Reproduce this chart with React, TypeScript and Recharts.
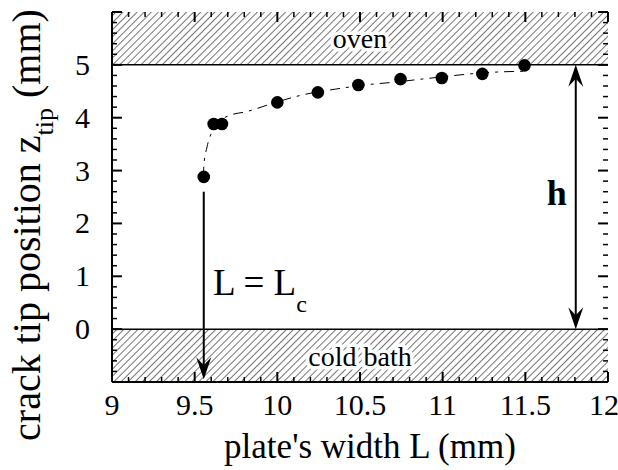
import React from "react";
import {
  ComposedChart,
  Line,
  Scatter,
  XAxis,
  YAxis,
  ReferenceArea,
  ReferenceLine,
  ReferenceDot,
  Label,
} from "recharts";

// measured points: plate width L (mm) vs crack tip position z_tip (mm)
const plateWidth = [9.555, 9.615, 9.665, 10.0, 10.245, 10.49, 10.745, 10.995, 11.24, 11.495];
const tipPosition = [2.88, 3.88, 3.88, 4.29, 4.48, 4.62, 4.73, 4.75, 4.83, 4.99];

// dashed fit curve
const fitWidth = [9.552, 9.556, 9.575, 9.6, 9.63, 9.7, 9.82, 10.0, 10.15, 10.35, 10.56, 10.7, 10.9, 11.3, 11.5];
const fitPosition = [2.88, 3.1, 3.45, 3.7, 3.87, 4.03, 4.12, 4.3, 4.43, 4.54, 4.63, 4.67, 4.74, 4.86, 4.88];

const xMajorTicks = [9, 9.5, 10, 10.5, 11, 11.5, 12];
const yMajorTicks = [-1, 0, 1, 2, 3, 4, 5, 6];
const yTickLabels = [0, 1, 2, 3, 4, 5];

const xTicks = Array.from({ length: 31 }, (_, i) => Math.round(90 + i) / 10);
const yTicks = Array.from({ length: 36 }, (_, i) => Math.round(-5 + i) / 5);

const points = plateWidth.map((L, i) => ({ L, z: tipPosition[i] }));
const fit = fitWidth.map((L, i) => ({ L, z: fitPosition[i] }));

const SERIF = "'Liberation Serif', 'Times New Roman', serif";
const W = 618;
const H = 470;

const isMajorX = (v: number) => xMajorTicks.some((t) => Math.abs(t - v) < 1e-6);
const isMajorY = (v: number) => yMajorTicks.some((t) => Math.abs(t - v) < 1e-6);

// inward tick marks on the frame, in data units (≈10px major, 5px minor)
const xTickLen = (v: number) => (isMajorX(v) ? 0.19 : 0.095);
const yTickLen = (v: number) => (isMajorY(v) ? 0.06 : 0.03);

function XTickLabel(props: any) {
  const { x, y, payload } = props;
  if (!isMajorX(payload.value)) return <g />;
  const last = Math.abs(payload.value - 12) < 1e-6;
  return (
    <text x={last ? x - 4 : x} y={y + 33} textAnchor="middle" fontSize={30} fontFamily={SERIF} fill="#000">
      {String(payload.value)}
    </text>
  );
}

function YTickLabel(props: any) {
  const { x, y, payload } = props;
  if (!yTickLabels.some((t) => Math.abs(t - payload.value) < 1e-6)) return <g />;
  return (
    <text x={x - 22} y={y + 10} textAnchor="end" fontSize={30} fontFamily={SERIF} fill="#000">
      {String(payload.value)}
    </text>
  );
}

function head(tx: number, ty: number, dir: number) {
  // dir = 1 points down, -1 points up
  const len = 22;
  const w = 7.5;
  const notch = 8;
  return (
    <polygon
      points={`${tx},${ty} ${tx - w},${ty - dir * len} ${tx},${ty - dir * (len - notch)} ${tx + w},${ty - dir * len}`}
      fill="#000"
    />
  );
}

function Arrow(props: any) {
  const { x1, y1, x2, y2, both } = props;
  const top = Math.min(y1, y2);
  const bottom = Math.max(y1, y2);
  return (
    <g>
      <line
        x1={x1}
        x2={x2}
        y1={both ? top + 14 : top}
        y2={bottom - 14}
        stroke="#000"
        strokeWidth={2}
      />
      {head(x1, bottom, 1)}
      {both && head(x1, top, -1)}
    </g>
  );
}

function RegionText({ viewBox, text }: any) {
  const cx = viewBox.x + viewBox.width / 2;
  const cy = viewBox.y + viewBox.height / 2;
  return (
    <text
      x={cx}
      y={cy + 10}
      textAnchor="middle"
      fontSize={28}
      fontFamily={SERIF}
      fill="#000"
      stroke="#fff"
      strokeWidth={7}
      paintOrder="stroke"
      strokeLinejoin="round"
    >
      {text}
    </text>
  );
}

function YTitle({ viewBox }: any) {
  const x = (viewBox?.x ?? 0) + 40;
  const y = (viewBox ? viewBox.y + viewBox.height / 2 : 197) + 28;
  return (
    <text
      x={x}
      y={y}
      transform={`rotate(-90, ${x}, ${y})`}
      textAnchor="middle"
      fontSize={40}
      fontFamily={SERIF}
      fill="#000"
    >
      crack tip position z
      <tspan dy={13} fontSize={26}>
        tip
      </tspan>
      <tspan dy={-13} fontSize={40}>
        {"\u00a0(mm)"}
      </tspan>
    </text>
  );
}

function XTitle({ viewBox }: any) {
  const x = (viewBox ? viewBox.x + viewBox.width / 2 : 360) + 10;
  const y = (viewBox?.y ?? 382) + 76;
  return (
    <text x={x} y={y} textAnchor="middle" fontSize={35} fontFamily={SERIF} fill="#000">
      plate's width L (mm)
    </text>
  );
}

const frame = { stroke: "#000", strokeWidth: 2 };

export default function App() {
  return (
    <div style={{ width: W, height: H, background: "#fff", position: "relative" }}>
      <style>{"body{margin:0}"}</style>
      <svg width={0} height={0} style={{ position: "absolute" }}>
        <defs>
          <pattern
            id="hatch"
            width={5}
            height={5}
            patternUnits="userSpaceOnUse"
            patternTransform="rotate(45)"
          >
            <line x1={0} y1={0} x2={0} y2={5} stroke="#000" strokeWidth={1.1} />
          </pattern>
        </defs>
      </svg>
      <ComposedChart width={W} height={H} margin={{ top: 12, right: 10, bottom: 0, left: 0 }}>
        <ReferenceArea
          xAxisId="b"
          yAxisId="l"
          x1={9}
          x2={12}
          y1={5}
          y2={6}
          fill="url(#hatch)"
          fillOpacity={1}
          stroke="none"
          label={(p: any) => <RegionText viewBox={p.viewBox} text="oven" />}
        />
        <ReferenceArea
          xAxisId="b"
          yAxisId="l"
          x1={9}
          x2={12}
          y1={-1}
          y2={0}
          fill="url(#hatch)"
          fillOpacity={1}
          stroke="none"
          label={(p: any) => <RegionText viewBox={p.viewBox} text="cold bath" />}
        />
        <ReferenceLine xAxisId="b" yAxisId="l" y={5} stroke="#000" strokeWidth={1.5} />
        <ReferenceLine xAxisId="b" yAxisId="l" y={0} stroke="#000" strokeWidth={1.5} />

        {xTicks.map((v) => (
          <ReferenceLine
            key={`xb${v}`}
            xAxisId="b"
            yAxisId="l"
            segment={[
              { x: v, y: -1 },
              { x: v, y: -1 + xTickLen(v) },
            ]}
            stroke="#000"
            strokeWidth={isMajorX(v) ? 2 : 1.5}
            ifOverflow="visible"
          />
        ))}
        {xTicks.map((v) => (
          <ReferenceLine
            key={`xt${v}`}
            xAxisId="b"
            yAxisId="l"
            segment={[
              { x: v, y: 6 },
              { x: v, y: 6 - xTickLen(v) },
            ]}
            stroke="#000"
            strokeWidth={isMajorX(v) ? 2 : 1.5}
            ifOverflow="visible"
          />
        ))}
        {yTicks.map((v) => (
          <ReferenceLine
            key={`yl${v}`}
            xAxisId="b"
            yAxisId="l"
            segment={[
              { x: 9, y: v },
              { x: 9 + yTickLen(v), y: v },
            ]}
            stroke="#000"
            strokeWidth={isMajorY(v) ? 2 : 1.5}
            ifOverflow="visible"
          />
        ))}
        {yTicks.map((v) => (
          <ReferenceLine
            key={`yr${v}`}
            xAxisId="b"
            yAxisId="l"
            segment={[
              { x: 12, y: v },
              { x: 12 - yTickLen(v), y: v },
            ]}
            stroke="#000"
            strokeWidth={isMajorY(v) ? 2 : 1.5}
            ifOverflow="visible"
          />
        ))}

        <XAxis
          xAxisId="b"
          type="number"
          dataKey="L"
          domain={[9, 12]}
          allowDataOverflow
          ticks={xTicks}
          interval={0}
          height={88}
          tickSize={0}
          tickMargin={0}
          tickLine={false}
          axisLine={frame}
          tick={(p: any) => <XTickLabel {...p} />}
        >
          <Label content={(p: any) => <XTitle viewBox={p.viewBox} />} />
        </XAxis>
        <XAxis
          xAxisId="t"
          orientation="top"
          type="number"
          domain={[9, 12]}
          allowDataOverflow
          height={0}
          tick={false}
          tickLine={false}
          axisLine={frame}
        />
        <YAxis
          yAxisId="l"
          type="number"
          domain={[-1, 6]}
          allowDataOverflow
          ticks={yTicks}
          interval={0}
          width={112}
          tickSize={0}
          tickMargin={0}
          tickLine={false}
          axisLine={frame}
          tick={(p: any) => <YTickLabel {...p} />}
        >
          <Label content={(p: any) => <YTitle viewBox={p.viewBox} />} />
        </YAxis>
        <YAxis
          yAxisId="r"
          orientation="right"
          type="number"
          domain={[-1, 6]}
          allowDataOverflow
          width={0}
          tick={false}
          tickLine={false}
          axisLine={frame}
        />

        <Line
          xAxisId="b"
          yAxisId="l"
          data={fit}
          dataKey="z"
          type="monotone"
          stroke="#000"
          strokeWidth={1}
          strokeDasharray="10 6 3 6"
          dot={false}
          activeDot={false}
          isAnimationActive={false}
        />
        <Scatter
          xAxisId="b"
          yAxisId="l"
          data={points}
          dataKey="z"
          fill="#000"
          shape={(p: any) => <circle cx={p.cx} cy={p.cy} r={6.3} fill="#000" />}
          isAnimationActive={false}
        />

        <ReferenceLine
          xAxisId="b"
          yAxisId="l"
          segment={[
            { x: 9.555, y: 2.6 },
            { x: 9.555, y: -0.95 },
          ]}
          shape={(p: any) => <Arrow {...p} />}
        />
        <ReferenceLine
          xAxisId="b"
          yAxisId="l"
          segment={[
            { x: 11.805, y: 5 },
            { x: 11.805, y: 0 },
          ]}
          shape={(p: any) => <Arrow {...p} both />}
        />
        <ReferenceDot
          xAxisId="b"
          yAxisId="l"
          x={11.69}
          y={2.35}
          shape={(p: any) => (
            <text x={p.cx} y={p.cy} textAnchor="middle" fontSize={36} fontWeight="bold" fontFamily={SERIF} fill="#000">
              h
            </text>
          )}
        />
        <ReferenceDot
          xAxisId="b"
          yAxisId="l"
          x={9.611}
          y={0.65}
          shape={(p: any) => (
            <text x={p.cx} y={p.cy} textAnchor="start" fontSize={37} fontFamily={SERIF} fill="#000">
              L = L
              <tspan dy={17} fontSize={24}>
                c
              </tspan>
            </text>
          )}
        />
      </ComposedChart>
    </div>
  );
}
